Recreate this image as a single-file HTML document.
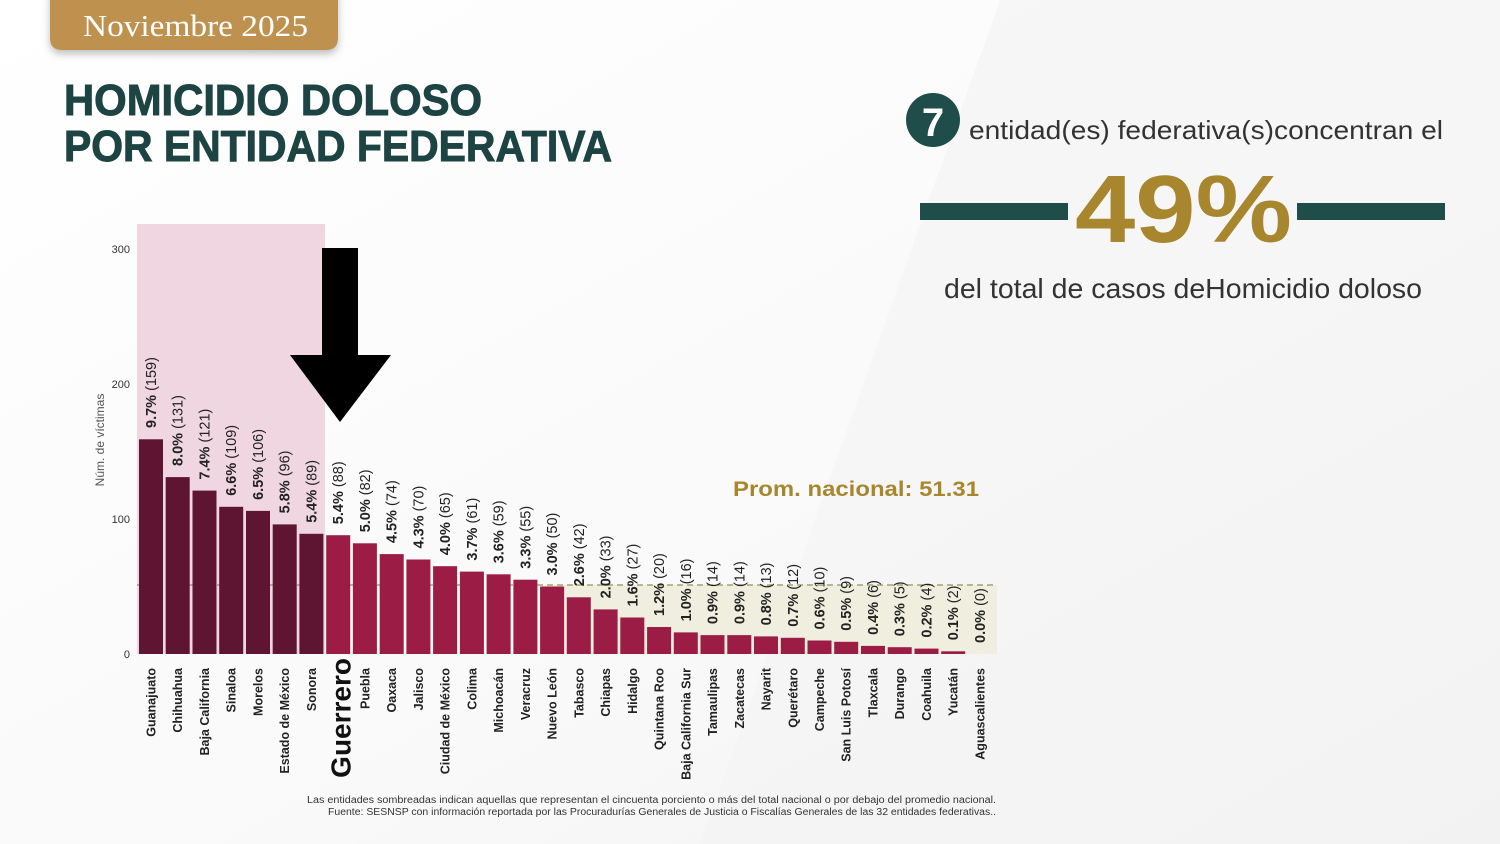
<!DOCTYPE html>
<html><head><meta charset="utf-8"><style>
html,body{margin:0;padding:0;background:#fff;}
svg{display:block;font-family:"Liberation Sans",sans-serif;}
</style></head><body>
<svg width="1500" height="844" viewBox="0 0 1500 844" xmlns="http://www.w3.org/2000/svg">
<defs>
<linearGradient id="bg" x1="0" y1="0" x2="1" y2="1">
<stop offset="0" stop-color="#ffffff"/><stop offset="0.6" stop-color="#f9f9f9"/><stop offset="1" stop-color="#f1f1f1"/>
</linearGradient>
<filter id="sh" x="-10%" y="-30%" width="120%" height="180%"><feDropShadow dx="0" dy="4" stdDeviation="4" flood-color="#000" flood-opacity="0.25"/></filter>
</defs>
<rect width="1500" height="844" fill="url(#bg)"/>
<polygon points="1000,0 1500,0 1500,844 700,844" fill="#f4f4f4" opacity="0.6"/>

<path d="M50,-10 H338 V38 Q338,50 326,50 H62 Q50,50 50,38 Z" fill="#bf9150" filter="url(#sh)"/>
<text x="83" y="36" font-family="Liberation Serif,serif" font-size="31" fill="#fff" textLength="225" lengthAdjust="spacingAndGlyphs">Noviembre 2025</text>

<text x="64" y="115" font-size="44" font-weight="bold" fill="#1d4443" stroke="#1d4443" stroke-width="1" textLength="418" lengthAdjust="spacingAndGlyphs">HOMICIDIO DOLOSO</text>
<text x="64" y="161" font-size="44" font-weight="bold" fill="#1d4443" stroke="#1d4443" stroke-width="1" textLength="548" lengthAdjust="spacingAndGlyphs">POR ENTIDAD FEDERATIVA</text>

<circle cx="933" cy="120" r="27" fill="#1e4d4a"/>
<text x="933" y="136" font-size="40" font-weight="bold" fill="#fff" text-anchor="middle">7</text>
<text x="969" y="139" font-size="26" fill="#333" textLength="474" lengthAdjust="spacingAndGlyphs">entidad(es) federativa(s)concentran el</text>
<rect x="920" y="203" width="148" height="17" fill="#1e4d4a"/>
<rect x="1297" y="203" width="148" height="17" fill="#1e4d4a"/>
<text x="1075" y="242" font-size="96" font-weight="bold" fill="#a8862e" textLength="217" lengthAdjust="spacingAndGlyphs">49%</text>
<text x="944" y="298" font-size="28" fill="#333" textLength="478" lengthAdjust="spacingAndGlyphs">del total de casos deHomicidio doloso</text>

<rect x="137" y="224" width="188" height="430" fill="#efd6e1"/>
<rect x="545" y="585" width="452" height="69" fill="#efeedf"/>
<line x1="137" y1="585" x2="997" y2="585" stroke="#9a8f55" stroke-width="1.2" stroke-dasharray="6,4"/>

<g font-size="11" fill="#333" text-anchor="end">
<text x="130" y="253">300</text><text x="130" y="388">200</text><text x="130" y="523">100</text><text x="130" y="658">0</text>
</g>
<text transform="translate(104,440) rotate(-90)" font-size="12" fill="#555" text-anchor="middle">Núm. de víctimas</text>

<text x="979" y="496" font-size="21" font-weight="bold" fill="#a8862e" text-anchor="end" textLength="246" lengthAdjust="spacingAndGlyphs">Prom. nacional: 51.31</text>

<g fill="#5e1531">
<rect x="139" y="439.3" width="24" height="214.7"/>
<rect x="165.7" y="477.1" width="24" height="176.9"/>
<rect x="192.5" y="490.6" width="24" height="163.4"/>
<rect x="219.2" y="506.8" width="24" height="147.2"/>
<rect x="246" y="510.9" width="24" height="143.1"/>
<rect x="272.7" y="524.4" width="24" height="129.6"/>
<rect x="299.4" y="533.8" width="24" height="120.2"/>
</g>
<g fill="#9b1d45">
<rect x="326.2" y="535.2" width="24" height="118.8"/>
<rect x="352.9" y="543.3" width="24" height="110.7"/>
<rect x="379.7" y="554.1" width="24" height="99.9"/>
<rect x="406.4" y="559.5" width="24" height="94.5"/>
<rect x="433.1" y="566.2" width="24" height="87.8"/>
<rect x="459.9" y="571.6" width="24" height="82.4"/>
<rect x="486.6" y="574.3" width="24" height="79.7"/>
<rect x="513.4" y="579.7" width="24" height="74.3"/>
<rect x="540.1" y="586.5" width="24" height="67.5"/>
<rect x="566.8" y="597.3" width="24" height="56.7"/>
<rect x="593.6" y="609.4" width="24" height="44.6"/>
<rect x="620.3" y="617.5" width="24" height="36.5"/>
<rect x="647.1" y="627" width="24" height="27"/>
<rect x="673.8" y="632.4" width="24" height="21.6"/>
<rect x="700.5" y="635.1" width="24" height="18.9"/>
<rect x="727.3" y="635.1" width="24" height="18.9"/>
<rect x="754" y="636.4" width="24" height="17.6"/>
<rect x="780.8" y="637.8" width="24" height="16.2"/>
<rect x="807.5" y="640.5" width="24" height="13.5"/>
<rect x="834.2" y="641.8" width="24" height="12.2"/>
<rect x="861" y="645.9" width="24" height="8.1"/>
<rect x="887.7" y="647.2" width="24" height="6.8"/>
<rect x="914.5" y="648.6" width="24" height="5.4"/>
<rect x="941.2" y="651.3" width="24" height="2.7"/>
</g>

<g font-size="14.5" fill="#222">
<text transform="translate(156,428) rotate(-90)"><tspan font-weight="bold">9.7%</tspan> (159)</text>
<text transform="translate(182.7,466) rotate(-90)"><tspan font-weight="bold">8.0%</tspan> (131)</text>
<text transform="translate(209.5,479.6) rotate(-90)"><tspan font-weight="bold">7.4%</tspan> (121)</text>
<text transform="translate(236.2,495.8) rotate(-90)"><tspan font-weight="bold">6.6%</tspan> (109)</text>
<text transform="translate(263,499.9) rotate(-90)"><tspan font-weight="bold">6.5%</tspan> (106)</text>
<text transform="translate(289.7,513.4) rotate(-90)"><tspan font-weight="bold">5.8%</tspan> (96)</text>
<text transform="translate(316.4,522.8) rotate(-90)"><tspan font-weight="bold">5.4%</tspan> (89)</text>
<text transform="translate(343.2,524.2) rotate(-90)"><tspan font-weight="bold">5.4%</tspan> (88)</text>
<text transform="translate(369.9,532.3) rotate(-90)"><tspan font-weight="bold">5.0%</tspan> (82)</text>
<text transform="translate(396.7,543.1) rotate(-90)"><tspan font-weight="bold">4.5%</tspan> (74)</text>
<text transform="translate(423.4,548.5) rotate(-90)"><tspan font-weight="bold">4.3%</tspan> (70)</text>
<text transform="translate(450.1,555.2) rotate(-90)"><tspan font-weight="bold">4.0%</tspan> (65)</text>
<text transform="translate(476.9,560.6) rotate(-90)"><tspan font-weight="bold">3.7%</tspan> (61)</text>
<text transform="translate(503.6,563.3) rotate(-90)"><tspan font-weight="bold">3.6%</tspan> (59)</text>
<text transform="translate(530.4,568.7) rotate(-90)"><tspan font-weight="bold">3.3%</tspan> (55)</text>
<text transform="translate(557.1,575.5) rotate(-90)"><tspan font-weight="bold">3.0%</tspan> (50)</text>
<text transform="translate(583.8,586.3) rotate(-90)"><tspan font-weight="bold">2.6%</tspan> (42)</text>
<text transform="translate(610.6,598.4) rotate(-90)"><tspan font-weight="bold">2.0%</tspan> (33)</text>
<text transform="translate(637.3,606.5) rotate(-90)"><tspan font-weight="bold">1.6%</tspan> (27)</text>
<text transform="translate(664.1,616) rotate(-90)"><tspan font-weight="bold">1.2%</tspan> (20)</text>
<text transform="translate(690.8,621.4) rotate(-90)"><tspan font-weight="bold">1.0%</tspan> (16)</text>
<text transform="translate(717.5,624.1) rotate(-90)"><tspan font-weight="bold">0.9%</tspan> (14)</text>
<text transform="translate(744.3,624.1) rotate(-90)"><tspan font-weight="bold">0.9%</tspan> (14)</text>
<text transform="translate(771,625.4) rotate(-90)"><tspan font-weight="bold">0.8%</tspan> (13)</text>
<text transform="translate(797.8,626.8) rotate(-90)"><tspan font-weight="bold">0.7%</tspan> (12)</text>
<text transform="translate(824.5,629.5) rotate(-90)"><tspan font-weight="bold">0.6%</tspan> (10)</text>
<text transform="translate(851.2,630.8) rotate(-90)"><tspan font-weight="bold">0.5%</tspan> (9)</text>
<text transform="translate(878,634.9) rotate(-90)"><tspan font-weight="bold">0.4%</tspan> (6)</text>
<text transform="translate(904.7,636.2) rotate(-90)"><tspan font-weight="bold">0.3%</tspan> (5)</text>
<text transform="translate(931.5,637.6) rotate(-90)"><tspan font-weight="bold">0.2%</tspan> (4)</text>
<text transform="translate(958.2,640.3) rotate(-90)"><tspan font-weight="bold">0.1%</tspan> (2)</text>
<text transform="translate(984.9,643) rotate(-90)"><tspan font-weight="bold">0.0%</tspan> (0)</text>
</g>

<g font-size="12.5" font-weight="bold" fill="#222" text-anchor="end">
<text transform="translate(155.5,668) rotate(-90)">Guanajuato</text>
<text transform="translate(182.2,668) rotate(-90)">Chihuahua</text>
<text transform="translate(209,668) rotate(-90)">Baja California</text>
<text transform="translate(235.7,668) rotate(-90)">Sinaloa</text>
<text transform="translate(262.5,668) rotate(-90)">Morelos</text>
<text transform="translate(289.2,668) rotate(-90)">Estado de México</text>
<text transform="translate(315.9,668) rotate(-90)">Sonora</text>
<text transform="translate(350.5,658) rotate(-90)" font-size="28" fill="#111">Guerrero</text>
<text transform="translate(369.4,668) rotate(-90)">Puebla</text>
<text transform="translate(396.2,668) rotate(-90)">Oaxaca</text>
<text transform="translate(422.9,668) rotate(-90)">Jalisco</text>
<text transform="translate(449.6,668) rotate(-90)">Ciudad de México</text>
<text transform="translate(476.4,668) rotate(-90)">Colima</text>
<text transform="translate(503.1,668) rotate(-90)">Michoacán</text>
<text transform="translate(529.9,668) rotate(-90)">Veracruz</text>
<text transform="translate(556.6,668) rotate(-90)">Nuevo León</text>
<text transform="translate(583.3,668) rotate(-90)">Tabasco</text>
<text transform="translate(610.1,668) rotate(-90)">Chiapas</text>
<text transform="translate(636.8,668) rotate(-90)">Hidalgo</text>
<text transform="translate(663.6,668) rotate(-90)">Quintana Roo</text>
<text transform="translate(690.3,668) rotate(-90)">Baja California Sur</text>
<text transform="translate(717,668) rotate(-90)">Tamaulipas</text>
<text transform="translate(743.8,668) rotate(-90)">Zacatecas</text>
<text transform="translate(770.5,668) rotate(-90)">Nayarit</text>
<text transform="translate(797.3,668) rotate(-90)">Querétaro</text>
<text transform="translate(824,668) rotate(-90)">Campeche</text>
<text transform="translate(850.7,668) rotate(-90)">San Luis Potosí</text>
<text transform="translate(877.5,668) rotate(-90)">Tlaxcala</text>
<text transform="translate(904.2,668) rotate(-90)">Durango</text>
<text transform="translate(931,668) rotate(-90)">Coahuila</text>
<text transform="translate(957.7,668) rotate(-90)">Yucatán</text>
<text transform="translate(984.4,668) rotate(-90)">Aguascalientes</text>
</g>

<rect x="322" y="248" width="36" height="110" fill="#000"/>
<polygon points="290,355 391,355 340,422" fill="#000"/>

<g font-size="10" fill="#333" text-anchor="end">
<text x="996" y="803" textLength="689" lengthAdjust="spacingAndGlyphs">Las entidades sombreadas indican aquellas que representan el cincuenta porciento o más del total nacional o por debajo del promedio nacional.</text>
<text x="996" y="815" textLength="668" lengthAdjust="spacingAndGlyphs">Fuente: SESNSP con información reportada por las Procuradurías Generales de Justicia o Fiscalías Generales de las 32 entidades federativas..</text>
</g>
</svg>
</body></html>
